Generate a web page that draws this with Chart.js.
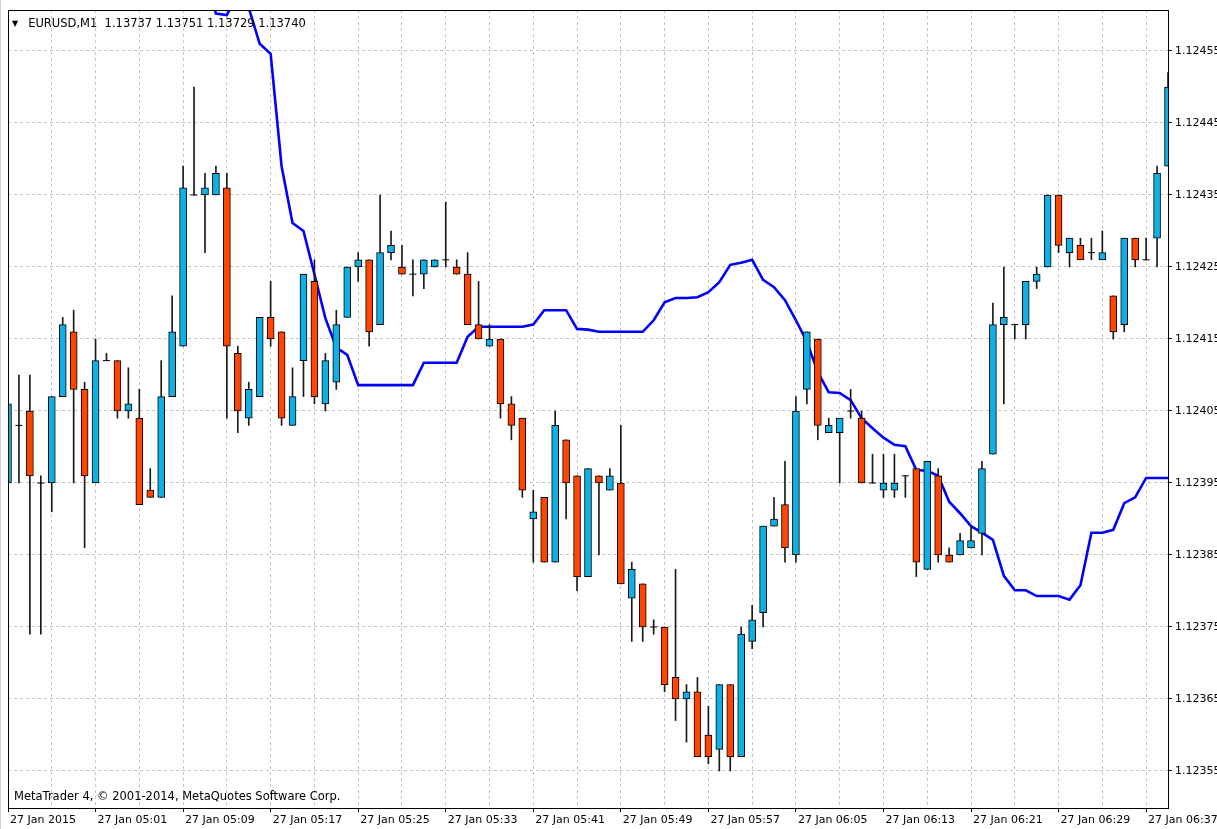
<!DOCTYPE html>
<html>
<head>
<meta charset="utf-8">
<script src="https://cdn.jsdelivr.net/npm/chart.js@4.4.1/dist/chart.umd.min.js"></script>
<style>
  html, body { margin: 0; padding: 0; background: #fff; }
  #wrap { position: relative; width: 1217px; height: 829px; overflow: hidden; }
  #chart { position: absolute; left: 0; top: 0; }
  .txt { position: absolute; font-family: "DejaVu Sans", sans-serif; font-size: 11.5px; color: #000; white-space: pre; line-height: 13px; }
  #header { left: 12px; top: 17px; }
  #header .tri { font-size: 8px; margin-right: 10px; position: relative; top: -1px; }
  #footer { left: 14px; top: 790px; }
</style>
</head>
<body>
<div id="wrap">
  <canvas id="chart" width="1217" height="829"></canvas>
  <div class="txt" id="header"><span class="tri">▼</span>EURUSD,M1  1.13737 1.13751 1.13729 1.13740</div>
  <div class="txt" id="footer">MetaTrader 4, © 2001-2014, MetaQuotes Software Corp.</div>
</div>
<script>
// bar times, one per minute (04:53 .. 06:39)
const barTimes = [];
for (let m = 4 * 60 + 53; m <= 6 * 60 + 39; m++) {
  barTimes.push('27 Jan ' + String(Math.floor(m / 60)).padStart(2, '0') + ':' + String(m % 60).padStart(2, '0'));
}

// labels shown under the chart, every 8th bar
const xTickLabels = ['27 Jan 2015', '27 Jan 05:01', '27 Jan 05:09', '27 Jan 05:17', '27 Jan 05:25',
  '27 Jan 05:33', '27 Jan 05:41', '27 Jan 05:49', '27 Jan 05:57', '27 Jan 06:05',
  '27 Jan 06:13', '27 Jan 06:21', '27 Jan 06:29', '27 Jan 06:37'];

const yTicks = [1.12355, 1.12365, 1.12375, 1.12385, 1.12395, 1.12405,
  1.12415, 1.12425, 1.12435, 1.12445, 1.12455];

// OHLC
const opens = [
  1.12395, 1.12403, 1.12405, 1.12395, 1.12395, 1.12407, 1.12416, 1.12408, 1.12395, 1.12412,
  1.12412, 1.12405, 1.12404, 1.12394, 1.12393, 1.12407, 1.12414, 1.12435, 1.12435, 1.12435,
  1.12436, 1.12413, 1.12404, 1.12407, 1.12418, 1.12416, 1.12403, 1.12412, 1.12423, 1.12406,
  1.12409, 1.12418, 1.12425, 1.12426, 1.12417, 1.12427, 1.12425, 1.12424, 1.12424, 1.12425,
  1.12426, 1.12425, 1.12424, 1.12417, 1.12414, 1.12415, 1.12406, 1.12404, 1.12390, 1.12393,
  1.12384, 1.12401, 1.12396, 1.12382, 1.12396, 1.12394, 1.12395, 1.12379, 1.12381, 1.12375,
  1.12375, 1.12368, 1.12365, 1.12366, 1.12360, 1.12358, 1.12367, 1.12357, 1.12373, 1.12377,
  1.12389, 1.12392, 1.12385, 1.12408, 1.12415, 1.12402, 1.12402, 1.12405, 1.12404, 1.12395,
  1.12394, 1.12394, 1.12396, 1.12397, 1.12383, 1.12396, 1.12385, 1.12385, 1.12386, 1.12388,
  1.12399, 1.12417, 1.12417, 1.12417, 1.12423, 1.12425, 1.12435, 1.12427, 1.12428, 1.12427,
  1.12426, 1.12421, 1.12417, 1.12429, 1.12426, 1.12429, 1.12439
];
const highs = [
  1.12412, 1.12410, 1.12410, 1.12396, 1.12407, 1.12418, 1.12419, 1.12409, 1.12415, 1.12413,
  1.12412, 1.12411, 1.12408, 1.12397, 1.12412, 1.12421, 1.12439, 1.12450, 1.12438, 1.12439,
  1.12438, 1.12414, 1.12409, 1.12418, 1.12423, 1.12416, 1.12411, 1.12424, 1.12426, 1.12413,
  1.12419, 1.12425, 1.12427, 1.12426, 1.12435, 1.12430, 1.12428, 1.12426, 1.12426, 1.12426,
  1.12434, 1.12426, 1.12427, 1.12423, 1.12417, 1.12415, 1.12407, 1.12404, 1.12394, 1.12393,
  1.12405, 1.12401, 1.12396, 1.12397, 1.12396, 1.12397, 1.12403, 1.12384, 1.12381, 1.12376,
  1.12375, 1.12383, 1.12367, 1.12368, 1.12364, 1.12367, 1.12367, 1.12375, 1.12378, 1.12389,
  1.12393, 1.12398, 1.12407, 1.12416, 1.12415, 1.12404, 1.12404, 1.12408, 1.12405, 1.12399,
  1.12399, 1.12399, 1.12396, 1.12397, 1.12398, 1.12397, 1.12386, 1.12388, 1.12389, 1.12398,
  1.12420, 1.12425, 1.12417, 1.12423, 1.12425, 1.12435, 1.12435, 1.12429, 1.12429, 1.12429,
  1.12430, 1.12421, 1.12429, 1.12429, 1.12429, 1.12439, 1.12452
];
const lows = [
  1.12393, 1.12395, 1.12374, 1.12374, 1.12391, 1.12407, 1.12395, 1.12386, 1.12395, 1.12412,
  1.12404, 1.12404, 1.12392, 1.12393, 1.12393, 1.12407, 1.12414, 1.12435, 1.12427, 1.12435,
  1.12404, 1.12402, 1.12403, 1.12407, 1.12414, 1.12403, 1.12403, 1.12407, 1.12406, 1.12405,
  1.12408, 1.12418, 1.12423, 1.12414, 1.12417, 1.12426, 1.12424, 1.12421, 1.12422, 1.12425,
  1.12425, 1.12424, 1.12417, 1.12415, 1.12414, 1.12404, 1.12401, 1.12393, 1.12384, 1.12384,
  1.12384, 1.12390, 1.12380, 1.12382, 1.12385, 1.12394, 1.12381, 1.12373, 1.12373, 1.12374,
  1.12366, 1.12362, 1.12359, 1.12357, 1.12356, 1.12355, 1.12355, 1.12357, 1.12372, 1.12375,
  1.12389, 1.12384, 1.12384, 1.12406, 1.12401, 1.12402, 1.12395, 1.12404, 1.12395, 1.12395,
  1.12393, 1.12393, 1.12393, 1.12382, 1.12383, 1.12384, 1.12384, 1.12385, 1.12386, 1.12385,
  1.12399, 1.12406, 1.12415, 1.12415, 1.12422, 1.12425, 1.12427, 1.12425, 1.12426, 1.12426,
  1.12426, 1.12415, 1.12416, 1.12425, 1.12426, 1.12425, 1.12439
];
const closes = [
  1.12406, 1.12403, 1.12396, 1.12395, 1.12407, 1.12417, 1.12408, 1.12396, 1.12412, 1.12412,
  1.12405, 1.12406, 1.12392, 1.12393, 1.12407, 1.12416, 1.12436, 1.12435, 1.12436, 1.12438,
  1.12414, 1.12405, 1.12408, 1.12418, 1.12415, 1.12404, 1.12407, 1.12424, 1.12407, 1.12412,
  1.12417, 1.12425, 1.12426, 1.12416, 1.12427, 1.12428, 1.12424, 1.12424, 1.12426, 1.12426,
  1.12426, 1.12424, 1.12417, 1.12415, 1.12415, 1.12406, 1.12403, 1.12394, 1.12391, 1.12384,
  1.12403, 1.12395, 1.12382, 1.12397, 1.12395, 1.12396, 1.12381, 1.12383, 1.12375, 1.12375,
  1.12367, 1.12365, 1.12366, 1.12357, 1.12357, 1.12367, 1.12357, 1.12374, 1.12376, 1.12389,
  1.12390, 1.12386, 1.12405, 1.12416, 1.12403, 1.12403, 1.12404, 1.12405, 1.12395, 1.12395,
  1.12395, 1.12395, 1.12396, 1.12384, 1.12398, 1.12385, 1.12384, 1.12387, 1.12387, 1.12397,
  1.12417, 1.12418, 1.12417, 1.12423, 1.12424, 1.12435, 1.12428, 1.12429, 1.12426, 1.12427,
  1.12427, 1.12416, 1.12429, 1.12426, 1.12426, 1.12438, 1.12450
];

// blue indicator line (above the visible range before bar 18)
const signalLine = [
  null, null, null, null, null, null, null, null, null, null,
  null, null, null, null, null, null, null, null, 1.12466, 1.124602,
  1.1246, 1.12463, 1.12461, 1.12456, 1.124546, 1.12439, 1.124311, 1.1243, 1.12424, 1.124179,
  1.124138, 1.124128, 1.124086, 1.124086, 1.124086, 1.124086, 1.124086, 1.124086, 1.124117, 1.124117,
  1.124117, 1.124117, 1.124153, 1.124167, 1.124167, 1.124167, 1.124167, 1.124167, 1.12417, 1.12419,
  1.12419, 1.12419, 1.124164, 1.124163, 1.12416, 1.12416, 1.12416, 1.12416, 1.12416, 1.124176,
  1.124201, 1.124207, 1.124207, 1.124208, 1.124215, 1.124229, 1.124253, 1.124256, 1.12426, 1.124232,
  1.124222, 1.124204, 1.124176, 1.124146, 1.124104, 1.124076, 1.124075, 1.124065, 1.12404, 1.124026,
  1.124013, 1.124003, 1.124001, 1.123968, 1.123967, 1.12396, 1.123924, 1.123908, 1.12389, 1.123881,
  1.123871, 1.123821, 1.123801, 1.123801, 1.123793, 1.123793, 1.123793, 1.123788, 1.123808, 1.123881,
  1.123881, 1.123885, 1.123922, 1.12393, 1.123957, 1.123957, 1.123957
];

const bullColor = '#0fb0e6';
const bearColor = '#ff4500';

const bodies = opens.map((o, i) => [o, closes[i]]);
const wicks = lows.map((l, i) => [l, highs[i]]);
const dojis = opens.map((o, i) => (o === closes[i] ? o : null));
const bodyColors = opens.map((o, i) => (closes[i] >= o ? bullColor : bearColor));

// frame around the plot + window edge
const framePlugin = {
  id: 'frame',
  afterDraw(chart) {
    const { ctx, chartArea: a } = chart;
    ctx.save();
    ctx.strokeStyle = '#d0d0d0';
    ctx.lineWidth = 1;
    ctx.beginPath();
    ctx.moveTo(0.5, 0);
    ctx.lineTo(0.5, chart.height);
    ctx.stroke();
    ctx.strokeStyle = '#000';
    ctx.strokeRect(a.left + 0.5, a.top + 0.5, a.right - a.left, a.bottom - a.top);
    ctx.restore();
  }
};

Chart.defaults.font.family = '"DejaVu Sans", sans-serif';
Chart.defaults.font.size = 11;
Chart.defaults.color = '#000';

new Chart(document.getElementById('chart'), {
  data: {
    labels: barTimes,
    datasets: [
      {
        type: 'line',
        data: signalLine,
        borderColor: '#0000ff',
        borderWidth: 2.6,
        pointRadius: 0,
        tension: 0,
        clip: 0,
        order: 4
      },
      {
        type: 'bar',
        data: wicks,
        backgroundColor: '#1a1a1a',
        barThickness: 1,
        grouped: false,
        order: 3
      },
      {
        type: 'bar',
        data: bodies,
        backgroundColor: bodyColors,
        borderColor: '#000',
        borderWidth: 1,
        borderSkipped: false,
        barThickness: 7,
        grouped: false,
        order: 2
      },
      {
        type: 'line',
        data: dojis,
        showLine: false,
        pointStyle: 'line',
        pointRadius: 3.5,
        pointBorderColor: '#000',
        pointBorderWidth: 1,
        order: 1
      }
    ]
  },
  options: {
    responsive: false,
    animation: false,
    devicePixelRatio: 1,
    layout: { padding: { left: 8, top: 10, right: 0, bottom: 0 } },
    plugins: {
      legend: { display: false },
      tooltip: { enabled: false }
    },
    scales: {
      x: {
        type: 'category',
        offset: false,
        grid: {
          offset: false,
          color: '#c4c4c4',
          lineWidth: ctx => (ctx.index % 4 === 0 ? 1 : 0),
          tickColor: '#000',
          tickWidth: ctx => (ctx.index % 8 === 0 ? 1 : 0),
          tickLength: 4,
          tickBorderDash: []
        },
        border: { display: false, dash: [3, 3] },
        ticks: {
          autoSkip: false,
          maxRotation: 0,
          minRotation: 0,
          align: 'start',
          labelOffset: 2,
          padding: 2,
          callback: (val, idx) => (idx % 8 === 0 ? xTickLabels[idx / 8] : '')
        },
        afterFit: scale => { scale.height = 21; }
      },
      y: {
        type: 'linear',
        position: 'right',
        min: 1.12349861,
        max: 1.12460694,
        afterBuildTicks: scale => { scale.ticks = yTicks.map(v => ({ value: v })); },
        grid: {
          color: '#c4c4c4',
          lineWidth: 1,
          tickColor: '#000',
          tickLength: 4,
          tickBorderDash: []
        },
        border: { display: false, dash: [3, 3] },
        ticks: {
          padding: 3,
          callback: v => v.toFixed(5)
        },
        afterFit: scale => { scale.width = 49; }
      }
    }
  },
  plugins: [framePlugin]
});
</script>
</body>
</html>
